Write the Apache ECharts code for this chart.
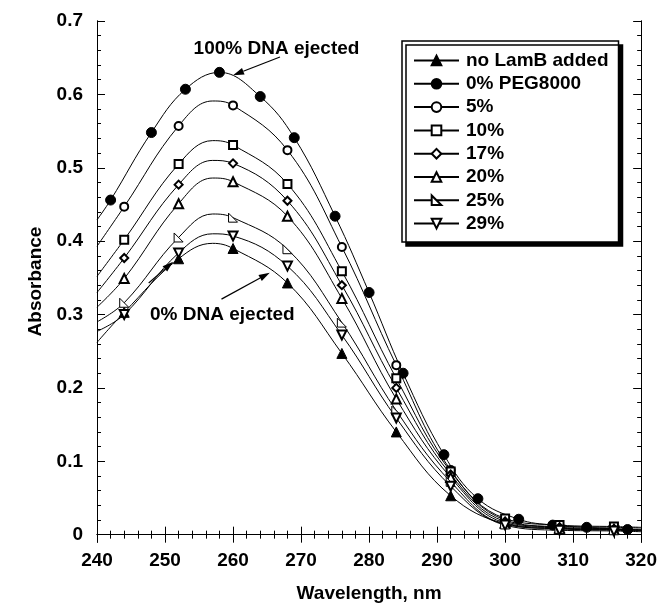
<!DOCTYPE html>
<html>
<head>
<meta charset="utf-8">
<script src="https://cdn.jsdelivr.net/npm/echarts@6/dist/echarts.min.js"></script>
<style>
  html, body { margin: 0; padding: 0; background: #fff; }
  #chart { width: 660px; height: 608px; }
</style>
</head>
<body>
<div id="chart"></div>
<script>
// marker wavelengths (nm)
const markX = [244, 252, 260, 268, 276, 284, 292, 300, 308, 316];
const markXPeg0 = [242, 248, 253, 258, 264, 269, 275, 280, 285, 291, 296, 302, 307, 312, 318];

// absorbance at the markers
const noLamB = [0.303, 0.376, 0.390, 0.343, 0.247, 0.140, 0.053, 0.015, 0.008, 0.007];
const peg0   = [0.456, 0.548, 0.607, 0.630, 0.597, 0.541, 0.434, 0.330, 0.220, 0.109, 0.049, 0.021, 0.013, 0.010, 0.007];
const peg5   = [0.447, 0.557, 0.585, 0.524, 0.392, 0.231, 0.088, 0.020, 0.011, 0.010];
const peg10  = [0.402, 0.505, 0.531, 0.478, 0.359, 0.213, 0.086, 0.022, 0.013, 0.011];
const peg17  = [0.377, 0.477, 0.506, 0.455, 0.340, 0.200, 0.082, 0.018, 0.010, 0.008];
const peg20  = [0.349, 0.451, 0.481, 0.434, 0.322, 0.185, 0.078, 0.016, 0.009, 0.007];
const peg25  = [0.316, 0.405, 0.432, 0.389, 0.289, 0.169, 0.072, 0.014, 0.008, 0.006];
const peg29  = [0.300, 0.384, 0.407, 0.366, 0.272, 0.159, 0.066, 0.013, 0.006, 0.005];

// extra points on the fitted curves (edges and peak), drawn without a marker
const curveX      = [240, 257, 320];
const curveX0     = [240, 320];
const noLamBCurve = [0.262, 0.397, 0.006];
const peg0Curve   = [0.429, 0.006];
const peg5Curve   = [0.393, 0.591, 0.009];
const peg10Curve  = [0.352, 0.537, 0.010];
const peg17Curve  = [0.330, 0.510, 0.007];
const peg20Curve  = [0.310, 0.486, 0.006];
const peg25Curve  = [0.290, 0.437, 0.005];
const peg29Curve  = [0.277, 0.410, 0.004];

const seriesNames = ['no LamB added', '0% PEG8000', '5%', '10%', '17%', '20%', '25%', '29%'];

// axis ticks
const yMajor = [0, 0.1, 0.2, 0.3, 0.4, 0.5, 0.6, 0.7];
const yMinor = [0.02, 0.04, 0.06, 0.08, 0.12, 0.14, 0.16, 0.18, 0.22, 0.24, 0.26, 0.28,
                0.32, 0.34, 0.36, 0.38, 0.42, 0.44, 0.46, 0.48, 0.52, 0.54, 0.56, 0.58,
                0.62, 0.64, 0.66, 0.68];

// annotations (data coordinates)
const noteTexts = ['100% DNA ejected', '0% DNA ejected'];
const noteAnchors = [[254.2, 0.662], [247.8, 0.300]];
const arrowLines = [
  [[266.9, 0.651], [260.0, 0.626]],
  [[258.3, 0.321], [265.4, 0.357]],
  [[247.6, 0.343], [251.2, 0.372]]
];

const FONT = '"Liberation Sans", Arial, sans-serif';

function points(xs, ys, cx, cy) {
  const pts = xs.map((x, i) => ({ value: [x, ys[i]] }));
  cx.forEach((x, i) => pts.push({ value: [x, cy[i]], symbol: 'none' }));
  pts.sort((a, b) => a.value[0] - b.value[0]);
  return pts;
}

function lineSeries(name, data, symbol, size, extra) {
  return Object.assign({
    name: name,
    type: 'line',
    data: data,
    smooth: 0.4,
    symbol: symbol,
    symbolSize: size,
    showAllSymbol: true,
    lineStyle: { color: '#000', width: 1 },
    itemStyle: { color: '#000', borderColor: '#000', borderWidth: 1 },
    emphasis: { disabled: true }
  }, extra || {});
}

const chart = echarts.init(document.getElementById('chart'));

const baseX = {
  type: 'value', min: 240, max: 320, interval: 10,
  axisLine: { lineStyle: { color: '#000', width: 1 } },
  axisTick: { inside: true, length: 8, lineStyle: { color: '#000' } },
  minorTick: { show: true, splitNumber: 5, length: 4, lineStyle: { color: '#000' } },
  splitLine: { show: false }
};
const baseY = {
  type: 'value', min: -0.01, max: 0.7,
  axisLine: { show: true, lineStyle: { color: '#000', width: 1 } },
  splitLine: { show: false }
};

const legendData = seriesNames.map((n, i) => (i === 1 ? { name: n, lineStyle: { width: 2 } } : { name: n }));

const option = {
  animation: false,
  backgroundColor: '#fff',
  grid: { left: 97, right: 18, top: 21, bottom: 64, show: false },
  legend: {
    orient: 'vertical',
    left: 402, top: 41,
    data: legendData,
    itemWidth: 45, itemHeight: 12, itemGap: 4.3,
    padding: [10, 10, 9, 11],
    backgroundColor: '#fff',
    borderColor: '#000', borderWidth: 1.5,
    shadowColor: '#000', shadowBlur: 0, shadowOffsetX: 4, shadowOffsetY: 4,
    textStyle: { color: '#000', fontSize: 19, fontWeight: 'bold', fontFamily: FONT, padding: [0, 0, 0, 2] }
  },
  xAxis: [
    Object.assign({}, baseX, {
      position: 'bottom',
      axisLabel: { color: '#000', fontSize: 19, fontWeight: 'bold', fontFamily: FONT, margin: 9 },
      name: 'Wavelength, nm', nameLocation: 'middle', nameGap: 42,
      nameTextStyle: { color: '#000', fontSize: 19, fontWeight: 'bold', fontFamily: FONT }
    }),
    Object.assign({}, baseX, { position: 'top', axisLabel: { show: false } })
  ],
  yAxis: [
    Object.assign({}, baseY, {
      position: 'left',
      axisTick: { inside: true, length: 8, customValues: yMajor, lineStyle: { color: '#000' } },
      axisLabel: {
        customValues: yMajor, color: '#000', fontSize: 19, fontWeight: 'bold', fontFamily: FONT, margin: 14,
        formatter: v => (v === 0 ? '0' : v.toFixed(1))
      },
      name: 'Absorbance', nameLocation: 'middle', nameGap: 50,
      nameTextStyle: { color: '#000', fontSize: 19, fontWeight: 'bold', fontFamily: FONT }
    }),
    Object.assign({}, baseY, {
      position: 'right',
      axisTick: { inside: true, length: 8, customValues: yMajor, lineStyle: { color: '#000' } },
      axisLabel: { show: false }
    }),
    Object.assign({}, baseY, {
      position: 'left',
      axisTick: { inside: true, length: 4, customValues: yMinor, lineStyle: { color: '#000' } },
      axisLabel: { show: false }
    }),
    Object.assign({}, baseY, {
      position: 'right',
      axisTick: { inside: true, length: 4, customValues: yMinor, lineStyle: { color: '#000' } },
      axisLabel: { show: false }
    })
  ],
  series: [
    lineSeries(seriesNames[0], points(markX, noLamB, curveX, noLamBCurve), 'triangle', 10),
    lineSeries(seriesNames[1], points(markXPeg0, peg0, curveX0, peg0Curve), 'circle', 10),
    lineSeries(seriesNames[2], points(markX, peg5, curveX, peg5Curve), 'emptyCircle', 8),
    lineSeries(seriesNames[3], points(markX, peg10, curveX, peg10Curve), 'emptyRect', 8),
    lineSeries(seriesNames[4], points(markX, peg17, curveX, peg17Curve), 'emptyDiamond', 8),
    lineSeries(seriesNames[5], points(markX, peg20, curveX, peg20Curve), 'emptyTriangle', 9),
    lineSeries(seriesNames[6], points(markX, peg25, curveX, peg25Curve), 'path://M0,0 L0,10 L10,10 Z', 9,
      { itemStyle: { color: '#fff', borderColor: '#000', borderWidth: 1 } }),
    lineSeries(seriesNames[7], points(markX, peg29, curveX, peg29Curve), 'emptyTriangle', 9, { symbolRotate: 180 })
  ]
};

chart.setOption(option);

// annotation texts and arrows placed through the axes
const toPx = c => chart.convertToPixel({ gridIndex: 0 }, c);
const graphics = [];
noteTexts.forEach((t, i) => {
  const p = toPx(noteAnchors[i]);
  graphics.push({
    type: 'text', x: p[0], y: p[1], z: 100,
    style: { text: t, fill: '#000', font: 'bold 19px ' + FONT, verticalAlign: 'middle' }
  });
});
arrowLines.forEach(a => {
  const p0 = toPx(a[0]), p1 = toPx(a[1]);
  const dx = p1[0] - p0[0], dy = p1[1] - p0[1];
  const len = Math.sqrt(dx * dx + dy * dy);
  const ux = dx / len, uy = dy / len;
  const hl = 11, hw = 3.5;
  const bx = p1[0] - ux * hl, by = p1[1] - uy * hl;
  graphics.push({
    type: 'line', z: 100,
    shape: { x1: p0[0], y1: p0[1], x2: bx, y2: by },
    style: { stroke: '#000', lineWidth: 1.2 }
  });
  graphics.push({
    type: 'polygon', z: 100,
    shape: { points: [[p1[0], p1[1]], [bx - uy * hw, by + ux * hw], [bx + uy * hw, by - ux * hw]] },
    style: { fill: '#000' }
  });
});
chart.setOption({ graphic: graphics });
</script>
</body>
</html>
